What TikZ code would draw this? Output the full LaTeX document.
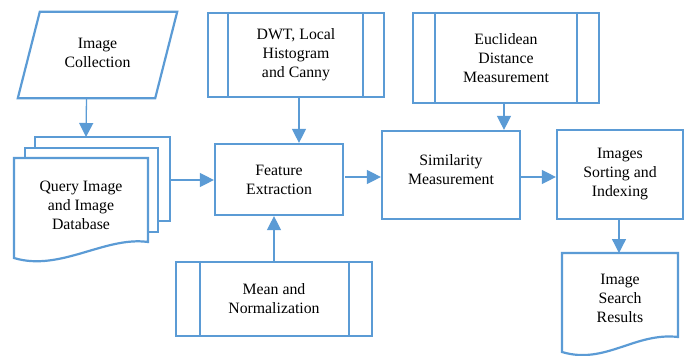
\documentclass[tikz,border=0pt]{standalone}
\usepackage{fontspec}
\setmainfont{Liberation Serif}
\newfontfamily\lblfont{Liberation Serif}
\usetikzlibrary{arrows.meta,calc}
\definecolor{bl}{HTML}{5B9BD5}
\begin{document}
\begin{tikzpicture}[x=1pt,y=-1pt,
  lbl/.style={align=center, inner sep=0pt, font=\lblfont\fontsize{15.8}{19}\selectfont},
  box/.style={lbl, draw=bl, line width=2.2pt, fill=white},
  shp/.style={draw=bl, line width=2.2pt, line join=miter},
  shpf/.style={shp, fill=white},
  inl/.style={draw=bl, line width=2pt},
  arr/.style={draw=bl, line width=1.3pt, -{Triangle[length=14pt,width=14pt]}}]
\useasboundingbox (0,0) rectangle (686,356);

% Image Collection (parallelogram)
\node[lbl, minimum width=159pt, minimum height=86pt, text depth=4pt] (coll) at (97.5,55) {Image\\Collection};
\draw[shp] ([xshift=22pt]coll.north west) -- (coll.north east) -- ([xshift=-22pt]coll.south east) -- (coll.south west) -- cycle;

% Query Image and Image Database (multi-document)
\draw[shpf] (35,137) rectangle (170,221);
\draw[shpf] (25,148) rectangle (158,232);
\draw[shpf] (14,158) -- (148,158) -- (148,242) .. controls (105,236) and (60,272) .. (14,258) -- cycle;
\node[lbl] (qdb) at (81,205) {Query Image\\and Image\\Database};
\coordinate (qtop) at (86,137);
\coordinate (qright) at (170,180);

% Feature Extraction
\node[box, minimum width=128pt, minimum height=71pt] (feat) at (279,179.5) {Feature\\Extraction};

% DWT, Local Histogram and Canny
\node[box, minimum width=176pt, minimum height=84pt] (dwt) at (296,55) {DWT, Local\\Histogram\\and Canny};
\draw[inl] ([xshift=21pt]dwt.north west) -- ([xshift=21pt]dwt.south west);
\draw[inl] ([xshift=-22pt]dwt.north east) -- ([xshift=-22pt]dwt.south east);

% Euclidean Distance Measurement
\node[box, minimum width=186pt, minimum height=90pt] (euc) at (506,58) {Euclidean\\Distance\\Measurement};
\draw[inl] ([xshift=23pt]euc.north west) -- ([xshift=23pt]euc.south west);
\draw[inl] ([xshift=-23pt]euc.north east) -- ([xshift=-23pt]euc.south east);

% Similarity Measurement
\node[box, minimum width=138pt, minimum height=88pt, text depth=10pt] (sim) at (451,175) {Similarity\\Measurement};

% Images Sorting and Indexing
\node[box, minimum width=126pt, minimum height=89pt] (sort) at (620,174.5) {Images\\Sorting and\\Indexing};

% Mean and Normalization
\node[box, minimum width=196pt, minimum height=74pt] (mean) at (274,299) {Mean and\\Normalization};
\draw[inl] ([xshift=25pt]mean.north west) -- ([xshift=25pt]mean.south west);
\draw[inl] ([xshift=-24pt]mean.north east) -- ([xshift=-24pt]mean.south east);

% Image Search Results (document)
\draw[shpf] (562,253) -- (678,253) -- (678,337) .. controls (635,332) and (605,365) .. (562,352) -- cycle;
\node[lbl] (res) at (620,298) {Image\\Search\\Results};
\coordinate (restop) at (619,253);

% Connectors
\draw[arr] ([xshift=-11pt]coll.south) -- (qtop);
\draw[arr] (qright) -- (qright -| feat.west);
\draw[arr] ([xshift=3pt]dwt.south) -- ([xshift=20pt]feat.north);
\draw[arr] (mean.north) -- ([xshift=-5pt]feat.south);
\draw[arr] ([xshift=1pt,yshift=2.5pt]feat.east) -- ([yshift=-2pt]sim.west);
\draw[arr] ([xshift=-2pt]euc.south) -- ([xshift=53pt]sim.north);
\draw[arr] ([yshift=-2pt]sim.east) -- ([yshift=-2.5pt]sort.west);
\draw[arr] ([xshift=-1pt]sort.south) -- (restop);
\end{tikzpicture}
\end{document}
